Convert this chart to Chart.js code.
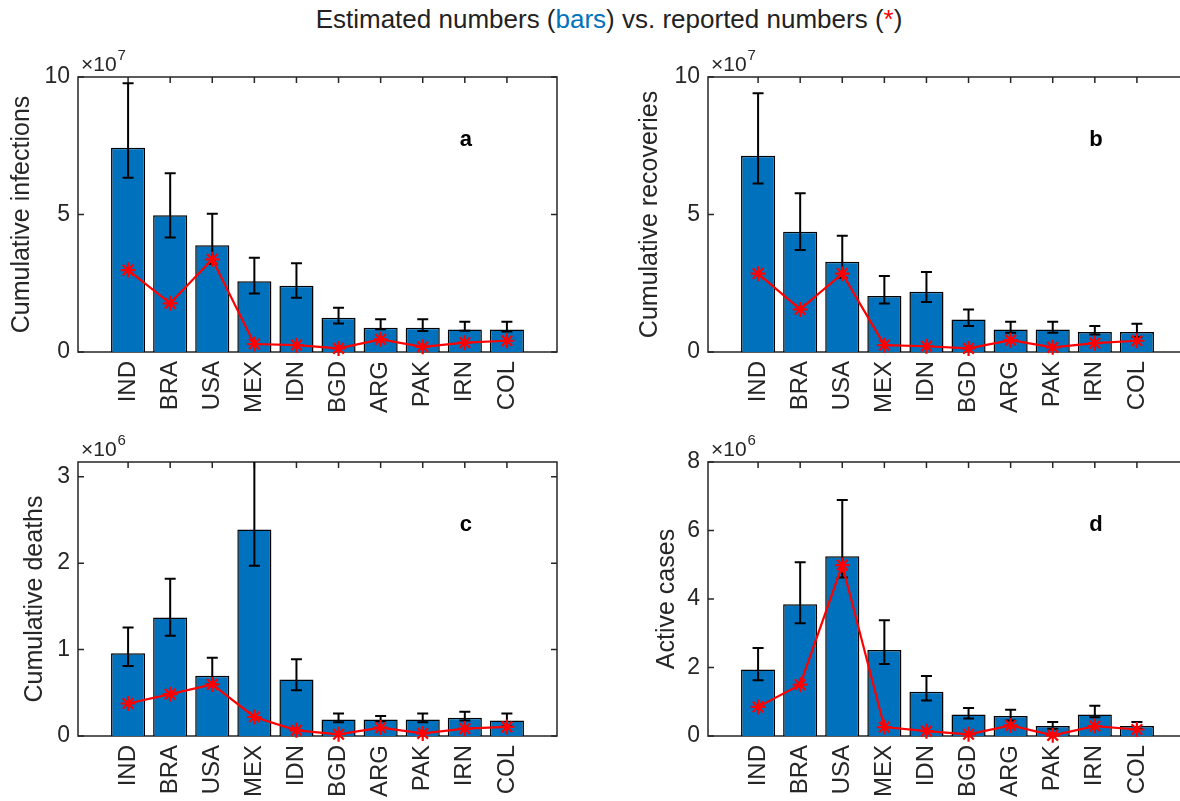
<!DOCTYPE html>
<html>
<head>
<meta charset="utf-8">
<script src="https://cdn.jsdelivr.net/npm/chart.js@4/dist/chart.umd.min.js"></script>
<style>
    body { margin: 0; background: #fff; width: 1180px; height: 801px; overflow: hidden; position: relative; }
    canvas { position: absolute; }
    #title {
        position: absolute; top: 4px; left: 609px; transform: translateX(-50%);
        font: 26px 'Liberation Sans', Arial, sans-serif; color: #222; white-space: nowrap;
    }
    #title .b { color: #0072BD; }
    #title .r { color: #FF0000; }
</style>
</head>
<body>
<div id="title">Estimated numbers (<span class="b">bars</span>) vs. reported numbers (<span class="r">*</span>)</div>
<canvas id="chartA" width="590" height="400" style="left:0;top:40px"></canvas>
<canvas id="chartB" width="590" height="400" style="left:630px;top:40px"></canvas>
<canvas id="chartC" width="590" height="376" style="left:0;top:425px"></canvas>
<canvas id="chartD" width="590" height="376" style="left:630px;top:425px"></canvas>
<script>
const countries = ['IND', 'BRA', 'USA', 'MEX', 'IDN', 'BGD', 'ARG', 'PAK', 'IRN', 'COL'];

// cumulative infections, x10^7
const infEst = [7.43, 4.97, 3.88, 2.57, 2.41, 1.25, 0.88, 0.88, 0.82, 0.82];
const infLo  = [6.34, 4.16, 3.20, 2.13, 1.97, 1.04, 0.83, 0.76, 0.77, 0.75];
const infHi  = [9.77, 6.50, 5.03, 3.43, 3.23, 1.61, 1.19, 1.19, 1.10, 1.10];
const infRep = [2.98, 1.77, 3.37, 0.29, 0.25, 0.13, 0.46, 0.19, 0.34, 0.41];

// cumulative recoveries, x10^7
const recEst = [7.14, 4.37, 3.28, 2.04, 2.19, 1.18, 0.82, 0.82, 0.73, 0.73];
const recLo  = [6.13, 3.71, 2.70, 1.76, 1.82, 0.95, 0.70, 0.70, 0.64, 0.55];
const recHi  = [9.41, 5.77, 4.23, 2.76, 2.91, 1.55, 1.10, 1.10, 0.95, 1.03];
const recRep = [2.85, 1.55, 2.85, 0.25, 0.21, 0.13, 0.43, 0.17, 0.32, 0.41];

// cumulative deaths, x10^6
const dthEst = [0.957, 1.37, 0.697, 2.39, 0.655, 0.19, 0.19, 0.19, 0.21, 0.18];
const dthLo  = [0.81, 1.16, 0.60, 1.97, 0.53, 0.16, 0.17, 0.16, 0.18, 0.11];
const dthHi  = [1.254, 1.82, 0.906, 3.30, 0.887, 0.26, 0.23, 0.26, 0.28, 0.26];
const dthRep = [0.376, 0.484, 0.597, 0.22, 0.066, 0.02, 0.097, 0.03, 0.086, 0.105];

// active cases, x10^6
const actEst = [1.94, 3.85, 5.25, 2.51, 1.29, 0.63, 0.585, 0.29, 0.63, 0.29];
const actLo  = [1.63, 3.29, 4.63, 2.10, 1.04, 0.51, 0.45, 0.21, 0.55, 0.21];
const actHi  = [2.57, 5.07, 6.89, 3.38, 1.75, 0.82, 0.77, 0.41, 0.88, 0.41];
const actRep = [0.85, 1.50, 4.99, 0.26, 0.14, 0.05, 0.31, 0.02, 0.29, 0.19];

const ticksAB = [0, 5, 10];
const ticksC = [0, 1, 2, 3];
const ticksD = [0, 2, 4, 6, 8];

const axisColor = '#262626';
Chart.defaults.font.family = "'Liberation Sans', Arial, Helvetica, sans-serif";
Chart.defaults.color = axisColor;

// box around the axes with inward ticks, error bars, exponent and panel letter
const panelDeco = {
    id: 'panelDeco',
    beforeDatasetsDraw(chart, args, opts) {
        const {ctx, chartArea: a, scales: {x, y}} = chart;
        ctx.save();
        ctx.strokeStyle = axisColor;
        ctx.lineWidth = 1.5;
        ctx.strokeRect(a.left, a.top, a.right - a.left, a.bottom - a.top);
        ctx.beginPath();
        x.ticks.forEach(t => {
            const px = x.getPixelForValue(t.value);
            ctx.moveTo(px, a.bottom); ctx.lineTo(px, a.bottom - 6);
            ctx.moveTo(px, a.top); ctx.lineTo(px, a.top + 6);
        });
        y.ticks.forEach(t => {
            const py = y.getPixelForValue(t.value);
            ctx.moveTo(a.left, py); ctx.lineTo(a.left + 6, py);
            ctx.moveTo(a.right, py); ctx.lineTo(a.right - 6, py);
        });
        ctx.stroke();
        ctx.restore();
    },
    afterDatasetDraw(chart, args, opts) {
        if (chart.data.datasets[args.index].type === 'line') return;
        const {ctx, chartArea: a, scales: {x, y}} = chart;
        ctx.save();
        ctx.beginPath();
        ctx.rect(a.left, a.top, a.right - a.left, a.bottom - a.top);
        ctx.clip();
        ctx.strokeStyle = '#000';
        ctx.lineWidth = 2;
        ctx.beginPath();
        opts.lo.forEach((lo, i) => {
            const px = x.getPixelForValue(i);
            const yl = y.getPixelForValue(lo);
            const yh = y.getPixelForValue(opts.hi[i]);
            ctx.moveTo(px, yl); ctx.lineTo(px, yh);
            ctx.moveTo(px - 5.5, yl); ctx.lineTo(px + 5.5, yl);
            ctx.moveTo(px - 5.5, yh); ctx.lineTo(px + 5.5, yh);
        });
        ctx.stroke();
        ctx.restore();
    },
    afterDraw(chart, args, opts) {
        const {ctx, chartArea: a} = chart;
        ctx.save();
        ctx.fillStyle = axisColor;
        ctx.textBaseline = 'alphabetic';
        ctx.textAlign = 'left';
        ctx.font = "21px 'Liberation Sans', Arial, sans-serif";
        const x0 = a.left + 3;
        ctx.fillText('\u00d710', x0, a.top - 6);
        const w = ctx.measureText('\u00d710').width;
        ctx.font = "15px 'Liberation Sans', Arial, sans-serif";
        ctx.fillText(opts.exp, x0 + w + 1, a.top - 17);
        ctx.fillStyle = '#000';
        ctx.font = "bold 22px 'Liberation Sans', Arial, sans-serif";
        ctx.textAlign = 'center';
        ctx.textBaseline = 'middle';
        ctx.fillText(opts.letter, a.left + 0.81 * (a.right - a.left), a.top + 0.23 * (a.bottom - a.top));
        ctx.restore();
    }
};

function makePanel(id, est, lo, hi, rep, yMax, yTicks, yLabel, letter, exp, labelPad, xAxisHeight) {
    return new Chart(document.getElementById(id), {
        type: 'bar',
        data: {
            datasets: [{
                type: 'line',
                data: rep.map((v, i) => ({x: i, y: v})),
                borderColor: '#FF0000',
                borderWidth: 2.2,
                pointStyle: 'star',
                pointRadius: 7.5,
                pointBorderWidth: 2.2,
                pointBorderColor: '#FF0000',
                pointBackgroundColor: '#FF0000',
                tension: 0,
                clip: false,
                order: 0
            }, {
                type: 'bar',
                data: est.map((v, i) => ({x: i, y: v})),
                backgroundColor: '#0072BD',
                borderColor: '#000',
                borderWidth: 1.5,
                categoryPercentage: 1,
                barPercentage: 0.81,
                order: 1
            }]
        },
        options: {
            responsive: false,
            animation: false,
            events: [],
            layout: {
                padding: {top: 37, right: 33, left: 0, bottom: 0}
            },
            plugins: {
                legend: {display: false},
                tooltip: {enabled: false},
                panelDeco: {lo: lo, hi: hi, exp: exp, letter: letter}
            },
            scales: {
                x: {
                    type: 'linear',
                    min: -1.19,
                    max: 10.19,
                    offset: false,
                    grid: {display: false, drawTicks: false},
                    border: {display: false},
                    afterBuildTicks: (scale) => {
                        scale.ticks = countries.map((c, i) => ({value: i}));
                    },
                    afterFit: (scale) => { scale.height = xAxisHeight; },
                    ticks: {
                        autoSkip: false,
                        maxRotation: 90,
                        minRotation: 90,
                        padding: 9,
                        font: {size: 24},
                        color: axisColor,
                        callback: (v) => countries[v]
                    }
                },
                y: {
                    min: 0,
                    max: yMax,
                    grid: {display: false, drawTicks: false},
                    border: {display: false},
                    afterBuildTicks: (scale) => {
                        scale.ticks = yTicks.map(v => ({value: v}));
                    },
                    afterFit: (scale) => { scale.width = 78; },
                    ticks: {
                        padding: 8,
                        font: {size: 23},
                        color: axisColor
                    },
                    title: {
                        display: true,
                        text: yLabel,
                        font: {size: 25},
                        color: axisColor,
                        padding: {top: labelPad, bottom: 0}
                    }
                }
            }
        },
        plugins: [panelDeco]
    });
}

makePanel('chartA', infEst, infLo, infHi, infRep, 10, ticksAB, 'Cumulative infections', 'a', '7', 7, 88);
makePanel('chartB', recEst, recLo, recHi, recRep, 10, ticksAB, 'Cumulative recoveries', 'b', '7', 5, 88);
makePanel('chartC', dthEst, dthLo, dthHi, dthRep, 3.17, ticksC, 'Cumulative deaths', 'c', '6', 20, 65);
makePanel('chartD', actEst, actLo, actHi, actRep, 8, ticksD, 'Active cases', 'd', '6', 22, 65);
</script>
</body>
</html>
